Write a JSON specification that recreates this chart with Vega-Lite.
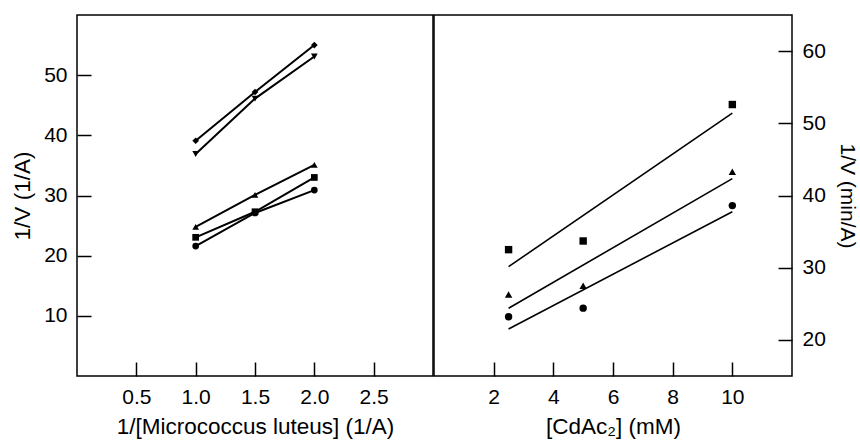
{
  "$schema": "https://vega.github.io/schema/vega-lite/v6.json",
  "padding": {"left": 10, "top": 14, "right": 0, "bottom": 2},
  "background": "white",
  "datasets": {
    "a": [
      {"x": 1, "y": 39.1, "series": "a1"}, {"x": 1.5, "y": 47.2, "series": "a1"}, {"x": 2, "y": 55.0, "series": "a1"},
      {"x": 1, "y": 36.9, "series": "a2"}, {"x": 1.5, "y": 46.1, "series": "a2"}, {"x": 2, "y": 53.1, "series": "a2"},
      {"x": 1, "y": 24.8, "series": "a3"}, {"x": 1.5, "y": 30.1, "series": "a3"}, {"x": 2, "y": 35.1, "series": "a3"},
      {"x": 1, "y": 23.05, "series": "a4"}, {"x": 1.5, "y": 27.3, "series": "a4"}, {"x": 2, "y": 33.0, "series": "a4"},
      {"x": 1, "y": 21.6, "series": "a5"}, {"x": 1.5, "y": 27.1, "series": "a5"}, {"x": 2, "y": 30.9, "series": "a5"}
    ],
    "b": [
      {"x": 2.5, "y": 32.5, "series": "square"}, {"x": 5, "y": 33.7, "series": "square"}, {"x": 10, "y": 52.6, "series": "square"},
      {"x": 2.5, "y": 26.3, "series": "triangle"}, {"x": 5, "y": 27.5, "series": "triangle"}, {"x": 10, "y": 43.3, "series": "triangle"},
      {"x": 2.5, "y": 23.2, "series": "circle"}, {"x": 5, "y": 24.4, "series": "circle"}, {"x": 10, "y": 38.6, "series": "circle"}
    ]
  },
  "spacing": -1.5,
  "hconcat": [
    {
      "width": 356,
      "height": 361,
      "layer": [
        {
          "data": {"name": "a"},
          "mark": {"type": "line", "color": "black", "strokeWidth": 2},
          "encoding": {
            "x": {"field": "x", "type": "quantitative", "scale": {"domain": [0, 3], "nice": false},
                  "axis": {"values": [0.5, 1, 1.5, 2, 2.5], "format": ".1f", "title": "1/[Micrococcus luteus] (1/A)"}},
            "y": {"field": "y", "type": "quantitative", "scale": {"domain": [0, 60], "nice": false},
                  "axis": {"values": [10, 20, 30, 40, 50], "title": "1/V (1/A)", "orient": "left", "titlePadding": 9}},
            "detail": {"field": "series"}
          }
        },
        {
          "data": {"name": "a"},
          "mark": {"type": "point", "filled": true, "color": "black", "opacity": 1, "size": 45},
          "encoding": {
            "x": {"field": "x", "type": "quantitative"},
            "y": {"field": "y", "type": "quantitative"},
            "shape": {"field": "series", "type": "nominal", "legend": null,
                      "scale": {"domain": ["a1", "a2", "a3", "a4", "a5"], "range": ["diamond", "triangle-down", "triangle-up", "square", "circle"]}}
          }
        },
        {
          "mark": {"type": "text", "text": "a", "fontSize": 27, "font": "Liberation Sans", "color": "black", "align": "center", "baseline": "middle"},
          "encoding": {"x": {"datum": 2.82}, "y": {"datum": 55.2}}
        }
      ]
    },
    {
      "width": 358,
      "height": 361,
      "layer": [
        {
          "data": {"name": "b"},
          "transform": [{"regression": "y", "on": "x", "groupby": ["series"]}],
          "mark": {"type": "line", "color": "black", "strokeWidth": 1.6},
          "encoding": {
            "x": {"field": "x", "type": "quantitative", "scale": {"domain": [0, 12], "nice": false},
                  "axis": {"values": [2, 4, 6, 8, 10], "title": "[CdAc₂] (mM)"}},
            "y": {"field": "y", "type": "quantitative", "scale": {"domain": [15, 65], "nice": false},
                  "axis": {"values": [20, 30, 40, 50, 60], "title": "1/V (min/A)", "orient": "right", "titlePadding": 11, "titleFontSize": 21}},
            "detail": {"field": "series"}
          }
        },
        {
          "data": {"name": "b"},
          "mark": {"type": "point", "filled": true, "color": "black", "opacity": 1, "size": 55},
          "encoding": {
            "x": {"field": "x", "type": "quantitative"},
            "y": {"field": "y", "type": "quantitative"},
            "shape": {"field": "series", "type": "nominal", "legend": null,
                      "scale": {"domain": ["square", "triangle", "circle"], "range": ["square", "triangle-up", "circle"]}}
          }
        },
        {
          "mark": {"type": "text", "text": "b", "fontSize": 27, "font": "Liberation Sans", "color": "black", "align": "center", "baseline": "middle"},
          "encoding": {"x": {"datum": 10.83}, "y": {"datum": 61.5}}
        }
      ],
      "resolve": {"scale": {"shape": "independent"}}
    }
  ],
  "resolve": {"scale": {"shape": "independent"}},
  "config": {
    "view": {"stroke": "black", "strokeWidth": 1.5},
    "axis": {
      "domain": false,
      "grid": false,
      "ticks": true,
      "tickColor": "black",
      "tickWidth": 1.5,
      "tickSize": -14,
      "labelPadding": 24,
      "labelFont": "Liberation Sans",
      "labelFontSize": 21,
      "labelColor": "black",
      "titleFont": "Liberation Sans",
      "titleFontSize": 22.5,
      "titleFontWeight": "normal",
      "titleColor": "black",
      "titlePadding": 8
    }
  }
}
